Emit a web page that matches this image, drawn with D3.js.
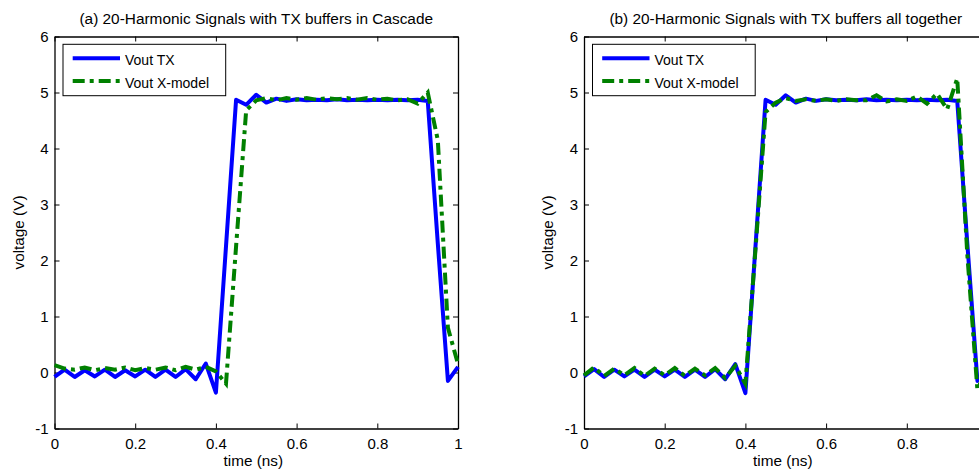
<!DOCTYPE html>
<html>
<head>
<meta charset="utf-8">
<script src="https://cdn.jsdelivr.net/npm/d3@7/dist/d3.min.js"></script>
<style>
  html, body { margin: 0; padding: 0; background: #fff; }
  svg { display: block; font-family: Arial, "Liberation Sans", Helvetica, sans-serif; }
</style>
</head>
<body>
<svg id="chart" width="979" height="470"></svg>
<script>
// time samples (ns)
var timeNs = [0, 0.025, 0.05, 0.075, 0.1, 0.125, 0.15, 0.175, 0.2, 0.225,
  0.25, 0.275, 0.3, 0.325, 0.35, 0.375, 0.4, 0.425, 0.45, 0.475,
  0.5, 0.525, 0.55, 0.575, 0.6, 0.625, 0.65, 0.675, 0.7, 0.725,
  0.75, 0.775, 0.8, 0.825, 0.85, 0.875, 0.9, 0.925, 0.95, 0.975, 1];

// (a) TX buffers in cascade
var voutTxA = [-0.08, 0.05, -0.08, 0.04, -0.07, 0.05, -0.08, 0.04, -0.07, 0.05,
  -0.08, 0.05, -0.08, 0.06, -0.12, 0.16, -0.36, 2.25, 4.87, 4.78,
  4.96, 4.82, 4.89, 4.85, 4.88, 4.86, 4.87, 4.86, 4.88, 4.86,
  4.87, 4.86, 4.87, 4.86, 4.87, 4.86, 4.87, 4.85, 2.3, -0.15, 0.1];
var voutModelA = [0.13, 0.07, 0.05, 0.09, 0.04, 0.08, 0.05, 0.09, 0.04, 0.08,
  0.05, 0.09, 0.04, 0.1, 0.05, 0.1, 0.02, -0.2, 2.25, 4.68,
  4.86, 4.9, 4.86, 4.9, 4.87, 4.9, 4.87, 4.9, 4.88, 4.9,
  4.87, 4.9, 4.87, 4.89, 4.86, 4.88, 4.8, 5.0, 4.15, 0.8, 0.15];

// (b) TX buffers all together
var voutTxB = [-0.07, 0.06, -0.08, 0.05, -0.07, 0.05, -0.08, 0.05, -0.07, 0.05,
  -0.08, 0.05, -0.08, 0.06, -0.12, 0.15, -0.37, 2.25, 4.87, 4.78,
  4.95, 4.82, 4.89, 4.85, 4.88, 4.86, 4.87, 4.86, 4.88, 4.86,
  4.87, 4.86, 4.87, 4.86, 4.87, 4.86, 4.87, 4.85, 2.3, -0.15, 0.1];
var voutModelB = [-0.05, 0.09, -0.06, 0.07, -0.05, 0.08, -0.06, 0.07, -0.05, 0.08,
  -0.06, 0.07, -0.05, 0.08, -0.1, 0.12, -0.2, 2.2, 4.65, 4.82,
  4.9, 4.85, 4.88, 4.85, 4.88, 4.85, 4.88, 4.86, 4.86, 4.95,
  4.84, 4.88, 4.85, 4.93, 4.8, 4.98, 4.7, 5.25, 2.1, -0.31, 0.1];

var xTicks = [0, 0.2, 0.4, 0.6, 0.8, 1];
var xTickLabels = ["0", "0.2", "0.4", "0.6", "0.8", "1"];
var yTicks = [-1, 0, 1, 2, 3, 4, 5, 6];
var yTickLabels = ["-1", "0", "1", "2", "3", "4", "5", "6"];

var seriesNames = ["Vout TX", "Vout X-model"];
var titles = ["(a) 20-Harmonic Signals with TX buffers in Cascade",
  "(b) 20-Harmonic Signals with TX buffers all together"];

var svg = d3.select("#chart");

var plotTop = 36.5, plotBottom = 428.5;
var panelLeft = [54.5, 584];
var panelWidth = 403.5;

function drawPanel(left, title, txData, modelData) {
  var x = d3.scaleLinear().domain([0, 1]).range([left, left + panelWidth]);
  var y = d3.scaleLinear().domain([-1, 6]).range([plotBottom, plotTop]);
  var g = svg.append("g");

  // frame axes, ticks pointing inwards
  g.append("g").attr("transform", "translate(0," + plotBottom + ")")
    .call(d3.axisBottom(x).tickValues(xTicks).tickSizeInner(-5).tickSizeOuter(0).tickPadding(10)
      .tickFormat(function(d, i) { return xTickLabels[i]; }));
  g.append("g").attr("transform", "translate(0," + plotTop + ")")
    .call(d3.axisTop(x).tickValues(xTicks).tickSizeInner(-5).tickSizeOuter(0).tickFormat(""));
  g.append("g").attr("transform", "translate(" + left + ",0)")
    .call(d3.axisLeft(y).tickValues(yTicks).tickSizeInner(-5).tickSizeOuter(0).tickPadding(6)
      .tickFormat(function(d, i) { return yTickLabels[i]; }));
  g.append("g").attr("transform", "translate(" + (left + panelWidth) + ",0)")
    .call(d3.axisRight(y).tickValues(yTicks).tickSizeInner(-5).tickSizeOuter(0).tickFormat(""));

  g.selectAll(".domain").attr("stroke", "#000").attr("stroke-width", 1.3);
  g.selectAll(".tick line").attr("stroke", "#000").attr("stroke-width", 1);
  g.selectAll(".tick text").attr("fill", "#000").style("font-size", "15px")
    .style("font-family", "Arial, 'Liberation Sans', Helvetica, sans-serif");

  var line = d3.line()
    .x(function(d, i) { return x(timeNs[i]); })
    .y(function(d) { return y(d); });

  g.append("path").datum(txData)
    .attr("d", line)
    .attr("fill", "none")
    .attr("stroke", "#0000ff")
    .attr("stroke-width", 4)
    .attr("stroke-linejoin", "round");

  g.append("path").datum(modelData)
    .attr("d", line)
    .attr("fill", "none")
    .attr("stroke", "#008000")
    .attr("stroke-width", 4)
    .attr("stroke-dasharray", "12,5,4,5");

  // title and axis labels
  g.append("text")
    .attr("x", left + panelWidth / 2)
    .attr("y", 24)
    .attr("text-anchor", "middle")
    .style("font-size", "15.4px")
    .text(title);

  g.append("text")
    .attr("x", left + panelWidth / 2 - 3)
    .attr("y", 466)
    .attr("text-anchor", "middle")
    .style("font-size", "15.3px")
    .text("time (ns)");

  g.append("text")
    .attr("transform", "translate(" + (left - 31) + "," + ((plotTop + plotBottom) / 2) + ") rotate(-90)")
    .attr("text-anchor", "middle")
    .style("font-size", "15.3px")
    .text("voltage (V)");

  // legend
  var lg = g.append("g").attr("transform", "translate(" + (left + 8.5) + "," + (plotTop + 7.8) + ")");
  lg.append("rect")
    .attr("width", 162.7).attr("height", 51.4)
    .attr("fill", "#fff").attr("stroke", "#000").attr("stroke-width", 1);
  var items = [
    { name: seriesNames[0], color: "#0000ff", dash: null },
    { name: seriesNames[1], color: "#008000", dash: "12,5,4,5" }
  ];
  items.forEach(function(it, i) {
    var yy = 14 + i * 22.7;
    lg.append("line")
      .attr("x1", 9.7).attr("x2", 57)
      .attr("y1", yy).attr("y2", yy)
      .attr("stroke", it.color).attr("stroke-width", 4)
      .attr("stroke-dasharray", it.dash);
    lg.append("text")
      .attr("x", 62).attr("y", yy + 7)
      .style("font-size", "14px")
      .text(it.name);
  });
}

drawPanel(panelLeft[0], titles[0], voutTxA, voutModelA);
drawPanel(panelLeft[1], titles[1], voutTxB, voutModelB);
</script>
</body>
</html>
